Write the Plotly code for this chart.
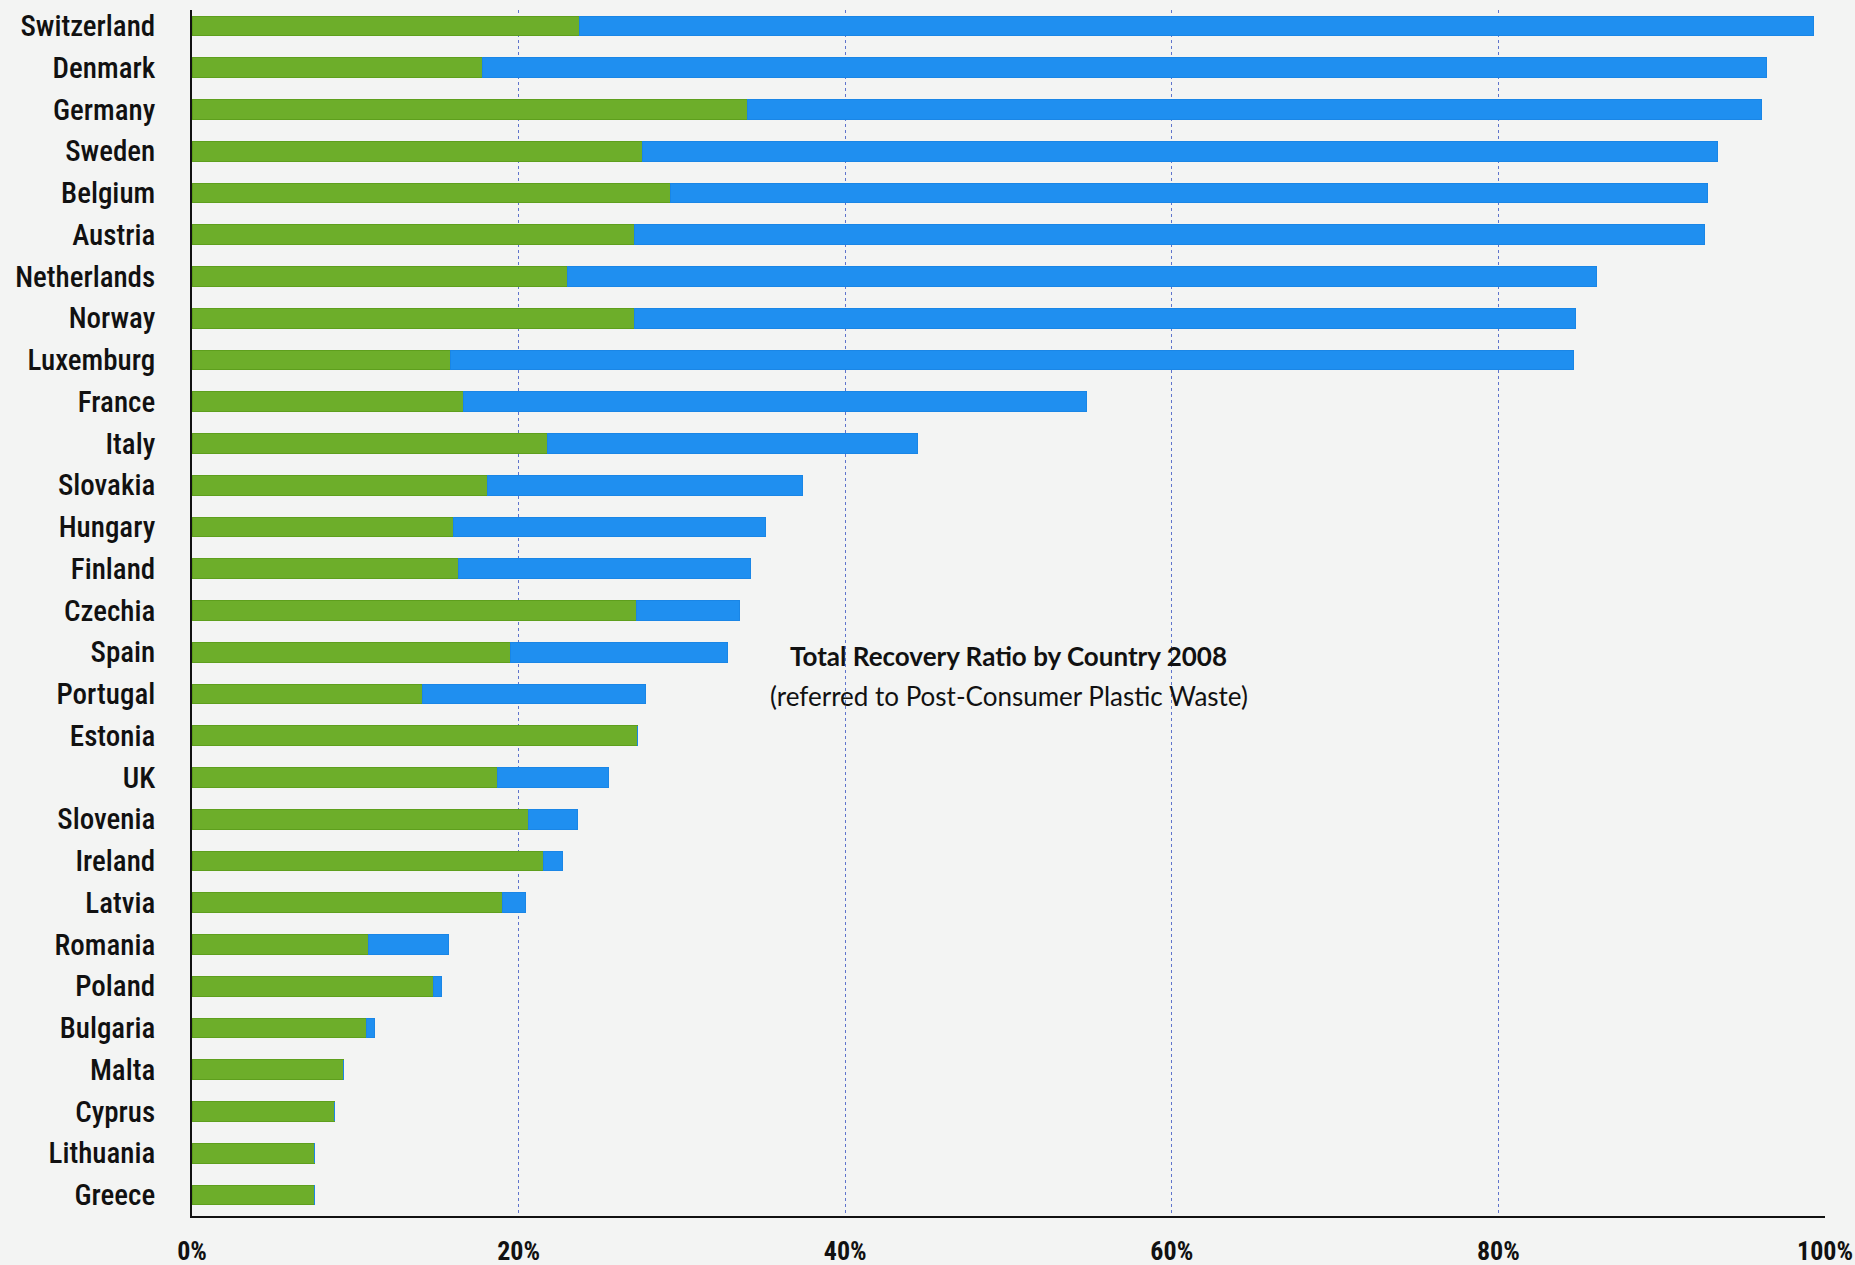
import plotly.graph_objects as go

countries = ["Switzerland", "Denmark", "Germany", "Sweden", "Belgium", "Austria",
             "Netherlands", "Norway", "Luxemburg", "France", "Italy", "Slovakia",
             "Hungary", "Finland", "Czechia", "Spain", "Portugal", "Estonia", "UK",
             "Slovenia", "Ireland", "Latvia", "Romania", "Poland", "Bulgaria",
             "Malta", "Cyprus", "Lithuania", "Greece"]

recycling = [23.7, 17.8, 34.0, 27.6, 29.3, 27.1, 23.0, 27.1, 15.8, 16.6, 21.8, 18.1,
             16.0, 16.3, 27.2, 19.5, 14.1, 27.3, 18.7, 20.6, 21.5, 19.0, 10.8, 14.8,
             10.7, 9.3, 8.7, 7.5, 7.5]

energy_recovery = [75.6, 78.6, 62.1, 65.8, 63.5, 65.5, 63.0, 57.6, 68.8, 38.2, 22.6, 19.3,
                   19.1, 17.9, 6.3, 13.3, 13.7, 0.0, 6.8, 3.0, 1.2, 1.4, 4.9, 0.5,
                   0.5, 0.0, 0.0, 0.0, 0.0]

x_tick_values = [0, 20, 40, 60, 80, 100]
x_tick_labels = ["0%", "20%", "40%", "60%", "80%", "100%"]

title_text = "Total Recovery Ratio by Country 2008"
subtitle_text = "(referred to Post-Consumer Plastic Waste)"

GREEN = "#6dae2a"
BLUE = "#1f8ff0"
LABEL_FONT = "Liberation Sans Narrow, Roboto Condensed, DejaVu Sans Condensed, Arial Narrow, sans-serif"

fig = go.Figure()
fig.add_trace(go.Bar(
    y=countries, x=recycling, orientation="h", name="Recycling",
    marker=dict(color=GREEN, line=dict(color="#5e9f1d", width=1)),
    width=0.47, hoverinfo="skip"))
fig.add_trace(go.Bar(
    y=countries, x=energy_recovery, orientation="h", name="Energy recovery",
    marker=dict(color=BLUE, line=dict(color="#1a86e6", width=1)),
    width=0.47, hoverinfo="skip"))

fig.add_annotation(x=50, xref="x", y=0.464, yref="paper", text="<b>" + title_text + "</b>",
                   showarrow=False, font=dict(family="Lato, Open Sans, sans-serif", size=26, color="#111111"))
fig.add_annotation(x=50, xref="x", y=0.431, yref="paper", text=subtitle_text,
                   showarrow=False, font=dict(family="Lato, Open Sans, sans-serif", size=26, color="#111111"))

fig.update_layout(
    barmode="stack",
    width=1855, height=1265,
    margin=dict(l=192, r=30, t=10, b=49, autoexpand=False),
    paper_bgcolor="#f3f4f3",
    plot_bgcolor="#f3f4f3",
    showlegend=False,
    xaxis=dict(
        range=[0, 100], tickvals=x_tick_values,
        ticktext=["<b>" + t + "</b>" for t in x_tick_labels],
        showgrid=True, griddash="dot", gridcolor="#5f74cc", gridwidth=1,
        zeroline=False, showline=True, linecolor="#111111", linewidth=2,
        ticks="", ticklabelstandoff=11, automargin=False,
        tickfont=dict(family=LABEL_FONT, size=26, color="#111111"),
    ),
    yaxis=dict(
        categoryorder="array", categoryarray=list(reversed(countries)),
        range=[-0.503, 28.383],
        showgrid=False, zeroline=False, showline=True, linecolor="#111111", linewidth=2,
        ticks="", ticklabelstandoff=29, automargin=False,
        tickfont=dict(family=LABEL_FONT, size=29, color="#111111", weight=500),
    ),
)

fig.write_html("out.html",
               config={"displayModeBar": False},
               post_script="document.body.style.margin='0px';document.body.style.overflow='hidden';")
